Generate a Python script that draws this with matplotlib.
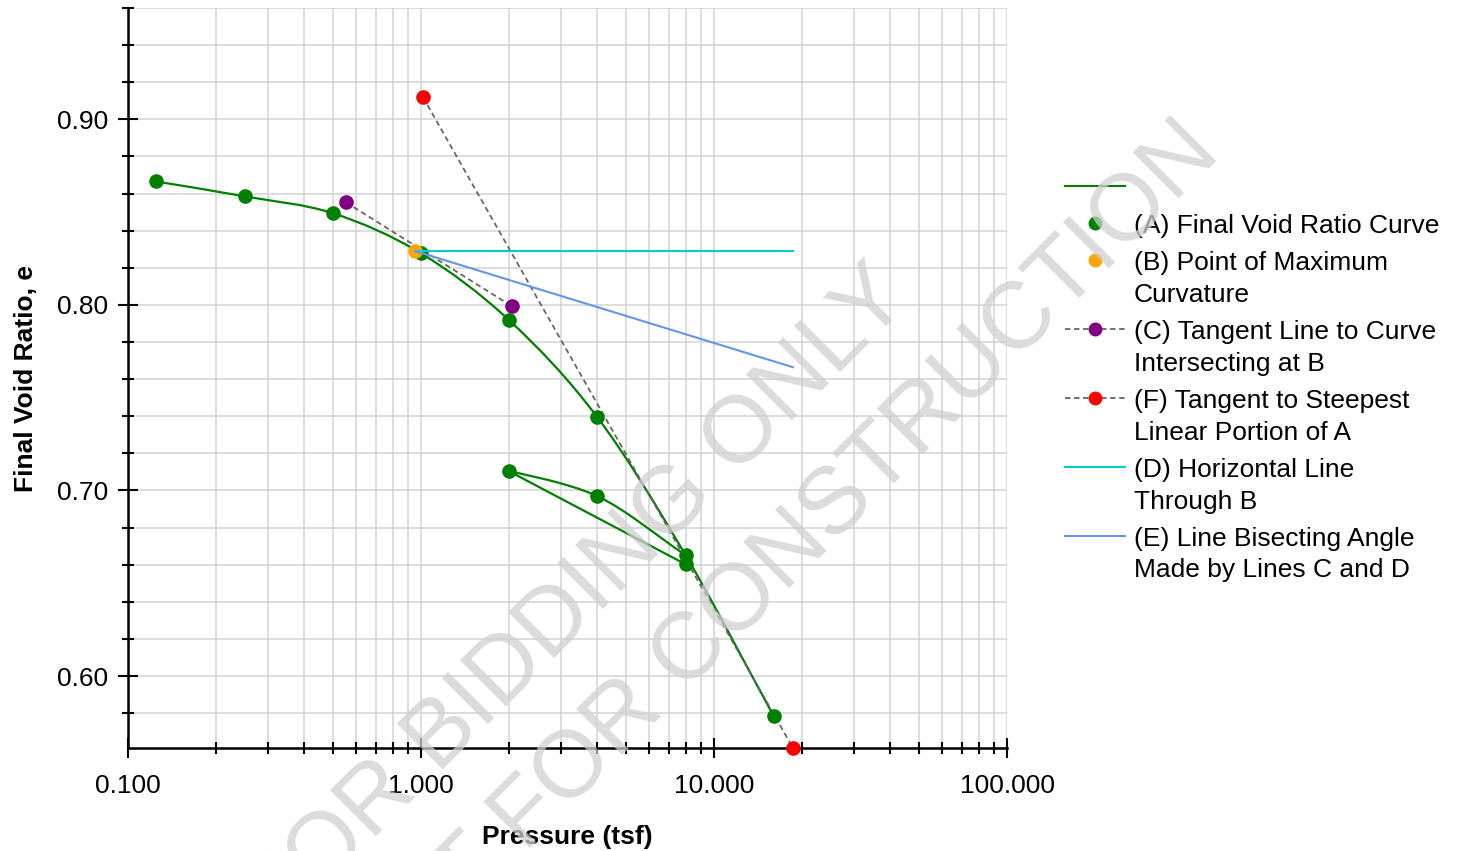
import numpy as np
import matplotlib
matplotlib.use("Agg")
import matplotlib.pyplot as plt
from matplotlib.path import Path
from matplotlib.patches import PathPatch
from matplotlib.lines import Line2D
from matplotlib.ticker import MultipleLocator, LogLocator, FuncFormatter, FormatStrFormatter, NullFormatter

plt.rcParams['font.family'] = ['Liberation Sans', 'DejaVu Sans']

# (A) final void ratio curve, in test order: loading, unload, reload
pressure = [0.125, 0.25, 0.5, 1.0, 2.0, 4.0, 8.0, 4.0, 2.0, 8.0, 16.0]
void_ratio = [0.8665, 0.8585, 0.8494, 0.8278, 0.7917, 0.7394, 0.6651, 0.6969, 0.7103, 0.6602, 0.5783]

# (B) point of maximum curvature
max_curv_p = [0.955]
max_curv_e = [0.829]

# (C) tangent line through B
tangent_p = [0.554, 2.045]
tangent_e = [0.8553, 0.7992]

# (F) tangent to steepest linear portion
steep_p = [1.016, 18.6]
steep_e = [0.9119, 0.5612]

# (D) horizontal line through B
horiz_p = [0.955, 18.6]
horiz_e = [0.829, 0.829]

# (E) bisector of C and D
bisect_p = [0.955, 18.6]
bisect_e = [0.829, 0.7664]

GREEN = '#008000'
DASH_GREY = '#666666'

# which points make up the virgin branch and the unload/reload loop of curve A
load_idx = [0, 1, 2, 3, 4, 5, 6, 10]
loop_idx = [6, 7, 8, 9]


# smooth line through the test points, drawn as bezier segments in log(p) space
# tangent is set to zero where the curve turns back in p
def curve_path(xs, ys):
    pts = np.column_stack([np.log10(xs), ys])
    n = len(pts)
    tang = np.zeros_like(pts)
    for i in range(n):
        if i == 0:
            tang[i] = pts[1] - pts[0]
        elif i == n - 1:
            tang[i] = pts[-1] - pts[-2]
        elif (pts[i, 0] - pts[i - 1, 0]) * (pts[i + 1, 0] - pts[i, 0]) < 0:
            tang[i] = 0
        else:
            tang[i] = (pts[i + 1] - pts[i - 1]) / 2
    verts = [pts[0]]
    codes = [Path.MOVETO]
    for i in range(n - 1):
        verts += [pts[i] + tang[i] / 3, pts[i + 1] - tang[i + 1] / 3, pts[i + 1]]
        codes += [Path.CURVE4] * 3
    verts = np.array(verts)
    verts[:, 0] = 10 ** verts[:, 0]
    return Path(verts, codes)


fig = plt.figure(figsize=(14.62, 8.51), dpi=100)
ax = fig.add_axes([128 / 1462, 1 - 748 / 851, (1007 - 128) / 1462, (748 - 8) / 851])

ax.set_xscale('log')
ax.set_xlim(0.1, 100)
ax.set_ylim(0.5612, 0.96)

# curve A
for idx in [load_idx, loop_idx]:
    px = [pressure[i] for i in idx]
    py = [void_ratio[i] for i in idx]
    ax.add_patch(PathPatch(curve_path(px, py), fill=False, edgecolor=GREEN, lw=1.6, zorder=2))
ax.plot(pressure, void_ratio, 'o', color=GREEN, ms=9.5, zorder=4)

# tangents (dashed)
ax.plot(tangent_p, tangent_e, ls=(0, (3, 2)), color=DASH_GREY, lw=1.3, zorder=3)
ax.plot(tangent_p, tangent_e, 'o', color='#800080', ms=9.5, zorder=4)
ax.plot(steep_p, steep_e, ls=(0, (3, 2)), color=DASH_GREY, lw=1.3, zorder=3, clip_on=False)
ax.plot(steep_p, steep_e, 'o', color='#ff0000', ms=9.5, zorder=4, clip_on=False)

# point B and the lines from it
ax.plot(max_curv_p, max_curv_e, 'o', color='#ffa500', ms=9.5, zorder=5)
ax.plot(horiz_p, horiz_e, color='#00ced1', lw=1.5, zorder=6)
ax.plot(bisect_p, bisect_e, color='#6495ed', lw=1.5, zorder=6)

# axes, ticks, grid
ax.xaxis.set_major_locator(LogLocator(base=10, numticks=10))
ax.xaxis.set_minor_locator(LogLocator(base=10, subs=np.arange(2, 10), numticks=20))
ax.xaxis.set_major_formatter(FuncFormatter(lambda v, p: f'{v:.3f}'))
ax.xaxis.set_minor_formatter(NullFormatter())
ax.yaxis.set_major_locator(MultipleLocator(0.1))
ax.yaxis.set_minor_locator(MultipleLocator(0.02))
ax.yaxis.set_major_formatter(FormatStrFormatter('%.2f'))

ax.set_axisbelow(True)
ax.grid(which='both', color='#d3d3d3', lw=1.1)
ax.tick_params(which='major', direction='inout', length=14, width=1.5, labelsize=19, color='black')
ax.tick_params(which='minor', direction='inout', length=8.5, width=1.5, color='black')
ax.tick_params(axis='x', which='major', pad=12)
ax.tick_params(axis='y', which='major', pad=7)
for side in ['top', 'right']:
    ax.spines[side].set_visible(False)
for side in ['left', 'bottom']:
    ax.spines[side].set_linewidth(1.8)

ax.set_xlabel('Pressure (tsf)', fontsize=19, fontweight='bold')
ax.set_ylabel('Final Void Ratio, e', fontsize=19, fontweight='bold')
ax.xaxis.set_label_coords(0.5, -0.104)
ax.yaxis.set_label_coords(-0.1024, 0.5)

# legend
handles = [
    Line2D([], [], color=GREEN, lw=1.5),
    Line2D([], [], ls='none', marker='o', color=GREEN, ms=9),
    Line2D([], [], ls='none', marker='o', color='#ffa500', ms=9),
    Line2D([], [], ls=(0, (3, 2)), color=DASH_GREY, lw=1.3, marker='o', mfc='#800080', mec='#800080', ms=9),
    Line2D([], [], ls=(0, (3, 2)), color=DASH_GREY, lw=1.3, marker='o', mfc='#ff0000', mec='#ff0000', ms=9),
    Line2D([], [], color='#00ced1', lw=1.5),
    Line2D([], [], color='#6495ed', lw=1.5),
]
labels = [
    ' ',
    '(A) Final Void Ratio Curve',
    '(B) Point of Maximum\nCurvature',
    '(C) Tangent Line to Curve\nIntersecting at B',
    '(F) Tangent to Steepest\nLinear Portion of A',
    '(D) Horizontal Line\nThrough B',
    '(E) Line Bisecting Angle\nMade by Lines C and D',
]
leg = fig.legend(handles, labels, loc='upper left', bbox_to_anchor=(1065 / 1462, 1 - 177 / 851),
                 bbox_transform=fig.transFigure, frameon=False, fontsize=19, handlelength=2.27,
                 handletextpad=0.34, labelspacing=0.49, borderpad=0, borderaxespad=0, numpoints=1)
for t in leg.get_texts():
    t.set_linespacing(1.42)
# put each handle next to the first line of its label
for col in leg._legend_handle_box.get_children():
    for row in col.get_children():
        row.align = 'top'

# watermark
wm = dict(rotation=45, rotation_mode='anchor', ha='left', va='baseline', fontsize=68,
          color='#d0d0d0', alpha=0.75, zorder=10)
fig.text(278.5 / 1462, 1 - 934.5 / 851, 'FOR BIDDING ONLY', **wm)
fig.text(366 / 1462, 1 - 1011 / 851, 'NOT FOR CONSTRUCTION', **wm)

fig.savefig('out.png', dpi=100)
